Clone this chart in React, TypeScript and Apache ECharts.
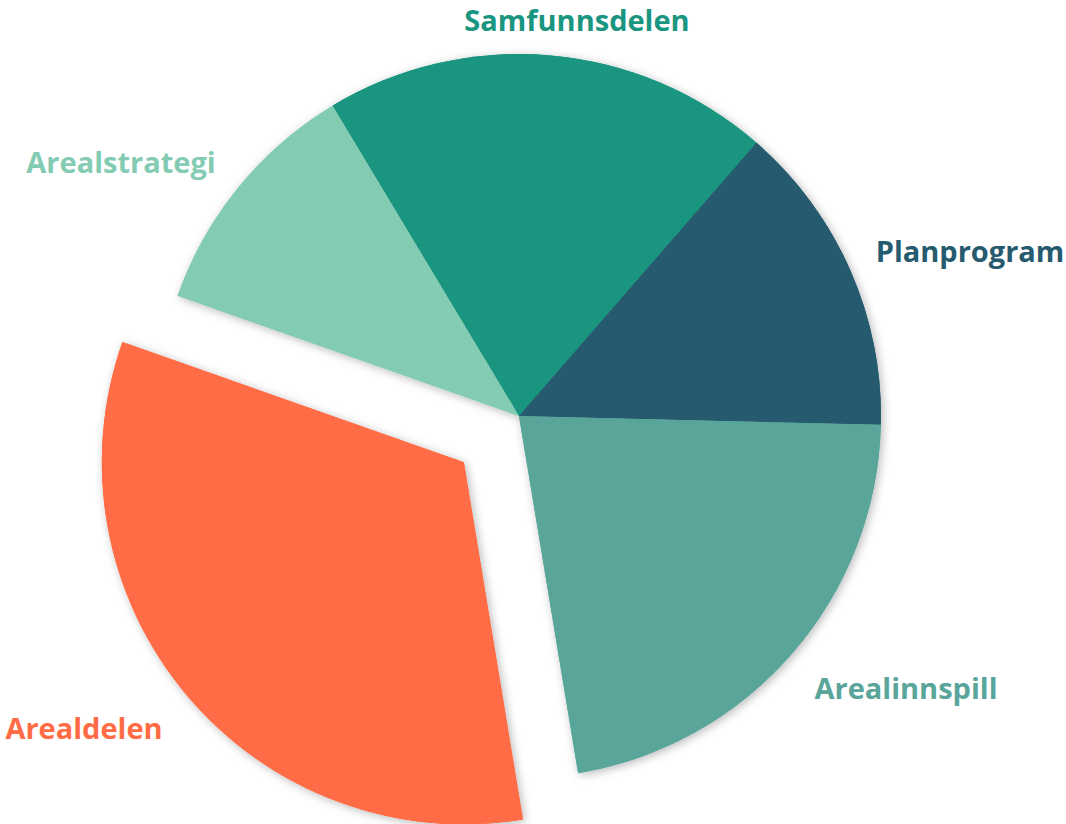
import React, { useEffect, useRef } from "react";
import * as echarts from "echarts";

const categories = ["Samfunnsdelen", "Planprogram", "Arealinnspill", "Arealdelen", "Arealstrategi"];
const values = [20, 14, 22, 33, 11];
const colors = ["#1A9580", "#265A6E", "#59A59A", "#FF6C45", "#84CBB3"];
const explodedIndex = 3;

// label placement (style, not data)
const labelPlaces: [number, number][] = [
  [577, 19],
  [970, 250],
  [906, 687],
  [84, 727],
  [121, 161],
];

export default function App() {
  const ref = useRef<HTMLDivElement>(null);
  useEffect(() => {
    if (!ref.current) return;
    const chart = echarts.init(ref.current, null, { renderer: "svg" });
    const base = {
      type: "pie",
      center: [519, 416],
      radius: 362,
      startAngle: 121,
      clockwise: true,
      selectedMode: "single",
      selectedOffset: 72,
      avoidLabelOverlap: false,
      emphasis: { disabled: true },
      label: { show: false },
      labelLine: { show: false },
    };
    chart.setOption({
      animation: false,
      backgroundColor: "#ffffff",
      series: [
        {
          ...base,
          z: 1,
          itemStyle: {
            shadowBlur: 10,
            shadowColor: "rgba(0,0,0,0.28)",
            shadowOffsetX: 2,
            shadowOffsetY: 2,
          },
          data: categories.map((name, i) => ({
            name,
            value: values[i],
            selected: i === explodedIndex,
            itemStyle: { color: colors[i] },
          })),
        },
        {
          ...base,
          z: 2,
          data: categories.map((name, i) => ({
            name,
            value: values[i],
            selected: i === explodedIndex,
            itemStyle: { color: colors[i] },
          })),
        },
      ],
      graphic: categories.map((name, i) => ({
        type: "text",
        x: labelPlaces[i][0],
        y: labelPlaces[i][1],
        z: 10,
        style: {
          text: name,
          fill: colors[i],
          font: "bold 29px 'Open Sans'",
          align: "center",
          verticalAlign: "middle",
        },
      })),
    });
    return () => chart.dispose();
  }, []);
  return (
    <div
      ref={ref}
      style={{ position: "absolute", left: 0, top: 0, width: 1066, height: 824 }}
    />
  );
}
